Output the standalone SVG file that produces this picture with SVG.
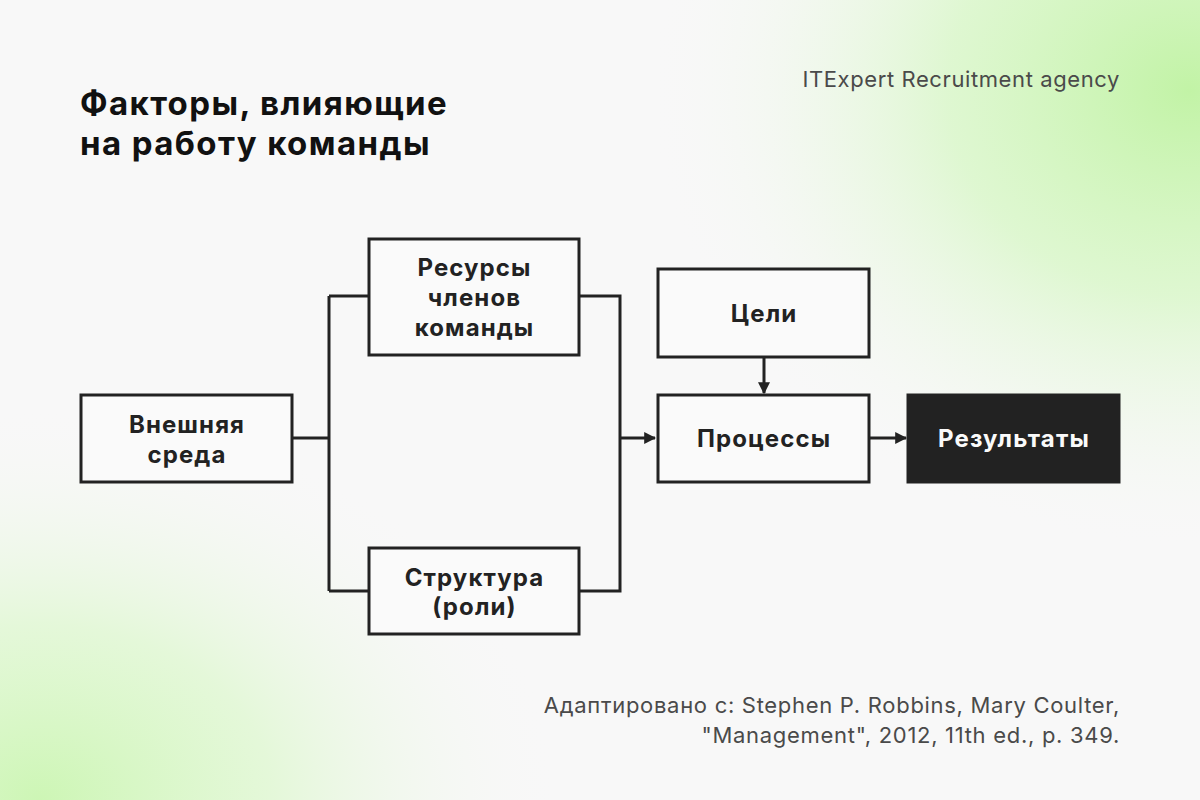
<svg xmlns="http://www.w3.org/2000/svg" width="1200" height="800" viewBox="0 0 1200 800">
<defs>
<radialGradient id="glowTR" cx="1190" cy="90" r="540" gradientUnits="userSpaceOnUse" gradientTransform="translate(1190 90) scale(1 0.85) translate(-1190 -90)">
<stop offset="0" stop-color="#c2f3a6" stop-opacity="1"/>
<stop offset="0.45" stop-color="#d6f7c4" stop-opacity="0.75"/>
<stop offset="1" stop-color="#f8f8f8" stop-opacity="0"/>
</radialGradient>
<radialGradient id="glowBL" cx="40" cy="800" r="520" gradientUnits="userSpaceOnUse" gradientTransform="translate(40 800) scale(1 0.75) translate(-40 -800)">
<stop offset="0" stop-color="#cdf6b5" stop-opacity="1"/>
<stop offset="0.45" stop-color="#dcf8cc" stop-opacity="0.7"/>
<stop offset="1" stop-color="#f8f8f8" stop-opacity="0"/>
</radialGradient>
<marker id="arrow" viewBox="0 0 10 10" refX="9" refY="5" markerWidth="4" markerHeight="4" orient="auto" markerUnits="strokeWidth">
<path d="M0,0 L10,5 L0,10 z" fill="#222"/>
</marker>
<style>
.box{fill:#fafafa;stroke:#222;stroke-width:3}
.dark{fill:#222;stroke:#222;stroke-width:3}
.lbl{font-family:Inter,"Noto Sans",sans-serif;font-weight:700;font-size:24px;letter-spacing:1.1px;fill:#222;text-anchor:middle}
.lblw{fill:#fafafa}
.conn{fill:none;stroke:#222;stroke-width:3}
.title{font-family:Inter,"Noto Sans",sans-serif;font-weight:700;font-size:33px;letter-spacing:1.4px;fill:#111}
.small{font-family:Inter,"Noto Sans",sans-serif;font-weight:400;font-size:22px;fill:#4a4a4a;text-anchor:end}
</style>
</defs>
<rect x="0" y="0" width="1200" height="800" fill="#f8f8f8"/>
<rect x="0" y="0" width="1200" height="800" fill="url(#glowTR)"/>
<rect x="0" y="0" width="1200" height="800" fill="url(#glowBL)"/>

<g id="title">
<text class="title" x="80" y="115">Факторы, влияющие</text>
<text class="title" x="80" y="155">на работу команды</text>
</g>
<text class="small" x="1120" y="87" letter-spacing="0.6">ITExpert Recruitment agency</text>

<g id="connectors">
<path class="conn" d="M292,438 H329 M329,296 V591 M329,296 H369 M329,591 H369"/>
<path class="conn" d="M579,296 H620 V591 H579"/>
<path class="conn" d="M620,438 H655" marker-end="url(#arrow)"/>
<path class="conn" d="M764,357 V393" marker-end="url(#arrow)"/>
<path class="conn" d="M869,438 H906" marker-end="url(#arrow)"/>
</g>

<g id="node-vneshnyaya">
<rect class="box" x="81" y="395" width="211" height="87"/>
<text class="lbl" x="187" y="433">Внешняя</text>
<text class="lbl" x="187" y="463">среда</text>
</g>
<g id="node-resursy">
<rect class="box" x="369" y="239" width="210" height="116"/>
<text class="lbl" x="474.5" y="276">Ресурсы</text>
<text class="lbl" x="474.5" y="306">членов</text>
<text class="lbl" x="474.5" y="336">команды</text>
</g>
<g id="node-struktura">
<rect class="box" x="369" y="548" width="210" height="86"/>
<text class="lbl" x="474.5" y="586">Структура</text>
<text class="lbl" x="474.5" y="615">(роли)</text>
</g>
<g id="node-tseli">
<rect class="box" x="658" y="269" width="211" height="88"/>
<text class="lbl" x="764" y="322">Цели</text>
</g>
<g id="node-protsessy">
<rect class="box" x="658" y="395" width="211" height="87"/>
<text class="lbl" x="764" y="447">Процессы</text>
</g>
<g id="node-rezultaty">
<rect class="dark" x="908" y="395" width="211" height="87"/>
<text class="lbl lblw" x="1014" y="447">Результаты</text>
</g>

<g id="source">
<text class="small" x="1120" y="713" letter-spacing="0.7">Адаптировано с: Stephen P. Robbins, Mary Coulter,</text>
<text class="small" x="1120" y="743" letter-spacing="0.7">"Management", 2012, 11th ed., p. 349.</text>
</g>
</svg>
